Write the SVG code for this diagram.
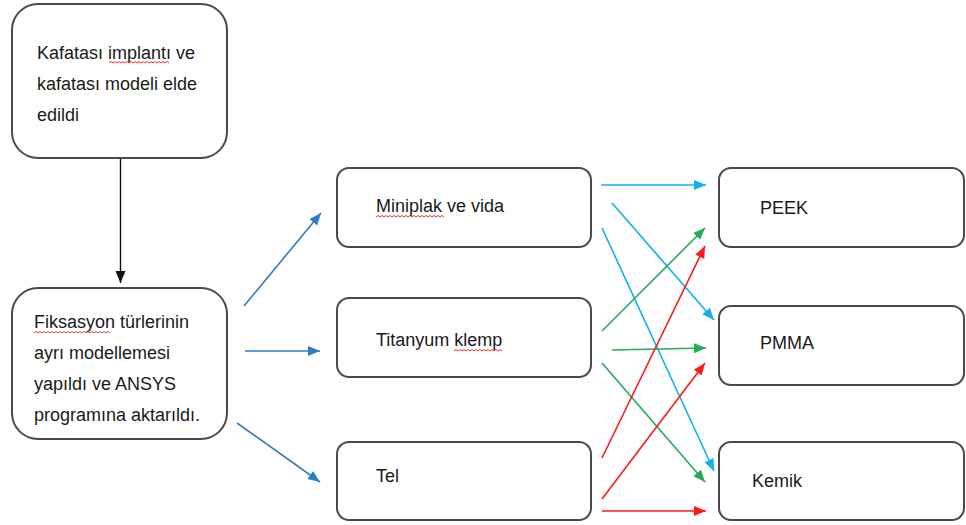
<svg xmlns="http://www.w3.org/2000/svg" width="966" height="525" viewBox="0 0 966 525">
<style>
.box{fill:#fff;stroke:#4a4a4a;stroke-width:2}
.t{font-family:"Liberation Sans",Arial,sans-serif;font-size:18px;fill:#1a1a1a}
.sq{fill:none;stroke:#e02020;stroke-width:0.9}
.c{fill:none;stroke-width:1.6}
.db{stroke:#2e7cc4}
.lb{stroke:#12b0ee}
.gr{stroke:#1fae55}
.rd{stroke:#ff1a1a}
.bk{stroke:#111;stroke-width:1.4}
</style>
<defs>
<marker id="mdb" markerUnits="userSpaceOnUse" markerWidth="13" markerHeight="11" refX="12" refY="5" orient="auto"><path d="M0,0 L12,5 L0,10 z" fill="#2e7cc4"/></marker>
<marker id="mlb" markerUnits="userSpaceOnUse" markerWidth="13" markerHeight="11" refX="12" refY="5" orient="auto"><path d="M0,0 L12,5 L0,10 z" fill="#12b0ee"/></marker>
<marker id="mgr" markerUnits="userSpaceOnUse" markerWidth="13" markerHeight="11" refX="12" refY="5" orient="auto"><path d="M0,0 L12,5 L0,10 z" fill="#1fae55"/></marker>
<marker id="mrd" markerUnits="userSpaceOnUse" markerWidth="13" markerHeight="11" refX="12" refY="5" orient="auto"><path d="M0,0 L12,5 L0,10 z" fill="#ff1a1a"/></marker>
<marker id="mbk" markerUnits="userSpaceOnUse" markerWidth="13" markerHeight="11" refX="12" refY="5" orient="auto"><path d="M0,0 L12,5 L0,10 z" fill="#111"/></marker>
</defs>

<g id="connectors">
<line class="c bk" x1="120.5" y1="158" x2="120.5" y2="283" marker-end="url(#mbk)"/>
<line class="c db" x1="244" y1="306" x2="321" y2="213" marker-end="url(#mdb)"/>
<line class="c db" x1="245" y1="351" x2="320" y2="351" marker-end="url(#mdb)"/>
<line class="c db" x1="237" y1="423" x2="320" y2="482" marker-end="url(#mdb)"/>
<line class="c lb" x1="601" y1="185" x2="706" y2="185" marker-end="url(#mlb)"/>
<line class="c lb" x1="612" y1="203" x2="714" y2="320" marker-end="url(#mlb)"/>
<line class="c lb" x1="602" y1="228" x2="714" y2="471" marker-end="url(#mlb)"/>
<line class="c gr" x1="602" y1="331" x2="705" y2="228" marker-end="url(#mgr)"/>
<line class="c gr" x1="612" y1="350" x2="706" y2="348" marker-end="url(#mgr)"/>
<line class="c gr" x1="602" y1="363" x2="705" y2="482" marker-end="url(#mgr)"/>
<line class="c rd" x1="602" y1="458" x2="705" y2="246" marker-end="url(#mrd)"/>
<line class="c rd" x1="602" y1="499" x2="705" y2="363" marker-end="url(#mrd)"/>
<line class="c rd" x1="602" y1="511" x2="706" y2="511" marker-end="url(#mrd)"/>
</g>

<g id="n-kafatasi">
<rect class="box" x="12" y="4" width="215" height="154" rx="26"/>
<text class="t" x="37" y="59">Kafatası implantı ve</text>
<text class="t" x="37" y="90">kafatası modeli elde</text>
<text class="t" x="37" y="121">edildi</text>
<path class="sq" d="M109,63 l2,-1.5 l2,1.5 l2,-1.5 l2,1.5 l2,-1.5 l2,1.5 l2,-1.5 l2,1.5 l2,-1.5 l2,1.5 l2,-1.5 l2,1.5 l2,-1.5 l2,1.5 l2,-1.5 l2,1.5 l2,-1.5 l2,1.5 l2,-1.5 l2,1.5 l2,-1.5 l2,1.5 l2,-1.5 l2,1.5 l2,-1.5 l2,1.5 l2,-1.5 l2,1.5 l2,-1.5 l2,1.5"/>
</g>

<g id="n-fiksasyon">
<rect class="box" x="12" y="288" width="215" height="151" rx="26"/>
<text class="t" x="34" y="328">Fiksasyon türlerinin</text>
<text class="t" x="34" y="359">ayrı modellemesi</text>
<text class="t" x="34" y="390">yapıldı ve ANSYS</text>
<text class="t" x="34" y="421">programına aktarıldı.</text>
<path class="sq" d="M34,333 l2,-1.5 l2,1.5 l2,-1.5 l2,1.5 l2,-1.5 l2,1.5 l2,-1.5 l2,1.5 l2,-1.5 l2,1.5 l2,-1.5 l2,1.5 l2,-1.5 l2,1.5 l2,-1.5 l2,1.5 l2,-1.5 l2,1.5 l2,-1.5 l2,1.5 l2,-1.5 l2,1.5 l2,-1.5 l2,1.5 l2,-1.5 l2,1.5 l2,-1.5 l2,1.5 l2,-1.5 l2,1.5 l2,-1.5 l2,1.5 l2,-1.5 l2,1.5 l2,-1.5 l2,1.5 l2,-1.5 l2,1.5"/>
</g>

<g id="n-miniplak">
<rect class="box" x="337" y="168" width="254" height="79" rx="12"/>
<text class="t" x="376" y="212">Miniplak ve vida</text>
<path class="sq" d="M376,217 l2,-1.5 l2,1.5 l2,-1.5 l2,1.5 l2,-1.5 l2,1.5 l2,-1.5 l2,1.5 l2,-1.5 l2,1.5 l2,-1.5 l2,1.5 l2,-1.5 l2,1.5 l2,-1.5 l2,1.5 l2,-1.5 l2,1.5 l2,-1.5 l2,1.5 l2,-1.5 l2,1.5 l2,-1.5 l2,1.5 l2,-1.5 l2,1.5 l2,-1.5 l2,1.5 l2,-1.5 l2,1.5 l2,-1.5 l2,1.5 l2,-1.5 l2,1.5"/>
</g>

<g id="n-titanyum">
<rect class="box" x="337" y="298" width="254" height="79" rx="12"/>
<text class="t" x="376" y="346">Titanyum klemp</text>
<path class="sq" d="M454,351 l2,-1.5 l2,1.5 l2,-1.5 l2,1.5 l2,-1.5 l2,1.5 l2,-1.5 l2,1.5 l2,-1.5 l2,1.5 l2,-1.5 l2,1.5 l2,-1.5 l2,1.5 l2,-1.5 l2,1.5 l2,-1.5 l2,1.5 l2,-1.5 l2,1.5 l2,-1.5 l2,1.5 l2,-1.5 l2,1.5"/>
</g>

<g id="n-tel">
<rect class="box" x="337" y="442" width="254" height="78" rx="12"/>
<text class="t" x="376" y="482">Tel</text>
</g>

<g id="n-peek">
<rect class="box" x="719" y="168" width="245" height="79" rx="12"/>
<text class="t" x="760" y="214">PEEK</text>
</g>

<g id="n-pmma">
<rect class="box" x="719" y="306" width="245" height="79" rx="12"/>
<text class="t" x="760" y="349">PMMA</text>
</g>

<g id="n-kemik">
<rect class="box" x="719" y="442" width="245" height="78" rx="12"/>
<text class="t" x="752" y="487">Kemik</text>
</g>
</svg>
